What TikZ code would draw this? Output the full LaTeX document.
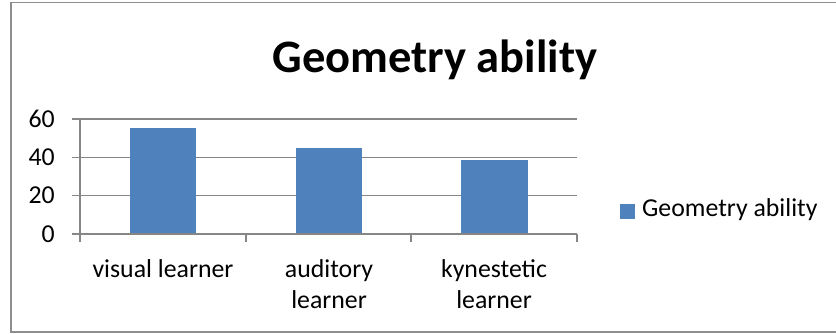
\documentclass[tikz,border=0pt]{standalone}
\usepackage{fontspec}
\setmainfont{Carlito}
\usepackage{tikz}
\definecolor{barblue}{HTML}{4F81BD}
\definecolor{gridgray}{HTML}{868686}
\definecolor{framegray}{HTML}{8E8E8E}
\tikzset{bar/.style={fill=barblue, draw=none},
  gridline/.style={gridgray, line width=1.3pt},
  ticklabel/.style={font=\fontsize{25.8}{31}\selectfont, inner sep=0pt},
  catlabel/.style={font=\fontsize{25.8}{31}\selectfont, inner sep=0pt, align=center, anchor=base}}

\begin{document}
\begin{tikzpicture}[x=1pt,y=-1pt]

  \newcommand\U{1.915};
  \newcommand\Z{234};

  \useasboundingbox (0,0) rectangle (836,334);
  \draw[framegray, line width=1.4pt] (11,2.5) rectangle (840,332);

  \node[font=\fontsize{46.5}{56}\bfseries, inner sep=0pt, anchor=base]
  (title) at (435,73) {Geometry ability};

  %% grid lines, 0 to 60
  \draw[gridline](72,\Z-60*\U) -- (577,\Z-60*\U);
  \draw[gridline](72,\Z-40*\U) -- (577,\Z-40*\U);
  \draw[gridline](72,\Z-20*\U) -- (577,\Z-20*\U);

  %% bars
  \fill[bar](130,\Z) rectangle (196,\Z-55.4*\U); %% visual
  \fill[bar](296,\Z) rectangle (362,\Z-45*\U);   %% auditory
  \fill[bar](461,\Z) rectangle (528,\Z-38.5*\U); %% kynestetic

  %% axes
  \draw[gridline](80,\Z-60*\U) -- (80,\Z+8);
  \draw[gridline](72,\Z) -- (577,\Z);
  \draw[gridline](246,\Z) -- (246,\Z+8);
  \draw[gridline](411,\Z) -- (411,\Z+8);
  \draw[gridline](577,\Z) -- (577,\Z+8);

  \node[ticklabel, anchor=east](y60) at (55,\Z-60*\U) {60};
  \node[ticklabel, anchor=east](y40) at (55,\Z-40*\U) {40};
  \node[ticklabel, anchor=east](y20) at (55,\Z-20*\U) {20};
  \node[ticklabel, anchor=east](y0) at (55,\Z) {0};

  %% base anchor sits on the last line
  \node[catlabel](visual) at (163,277) {visual learner};
  \node[catlabel](auditory) at (329,308) {auditory\\learner};
  \node[catlabel](kynestetic) at (494,308) {kynestetic\\learner};

  %% legend
  \fill[bar](620,204) rectangle (635,219);
  \node[ticklabel, anchor=base west](legend) at (642,217) {Geometry ability};

\end{tikzpicture}
\end{document}
